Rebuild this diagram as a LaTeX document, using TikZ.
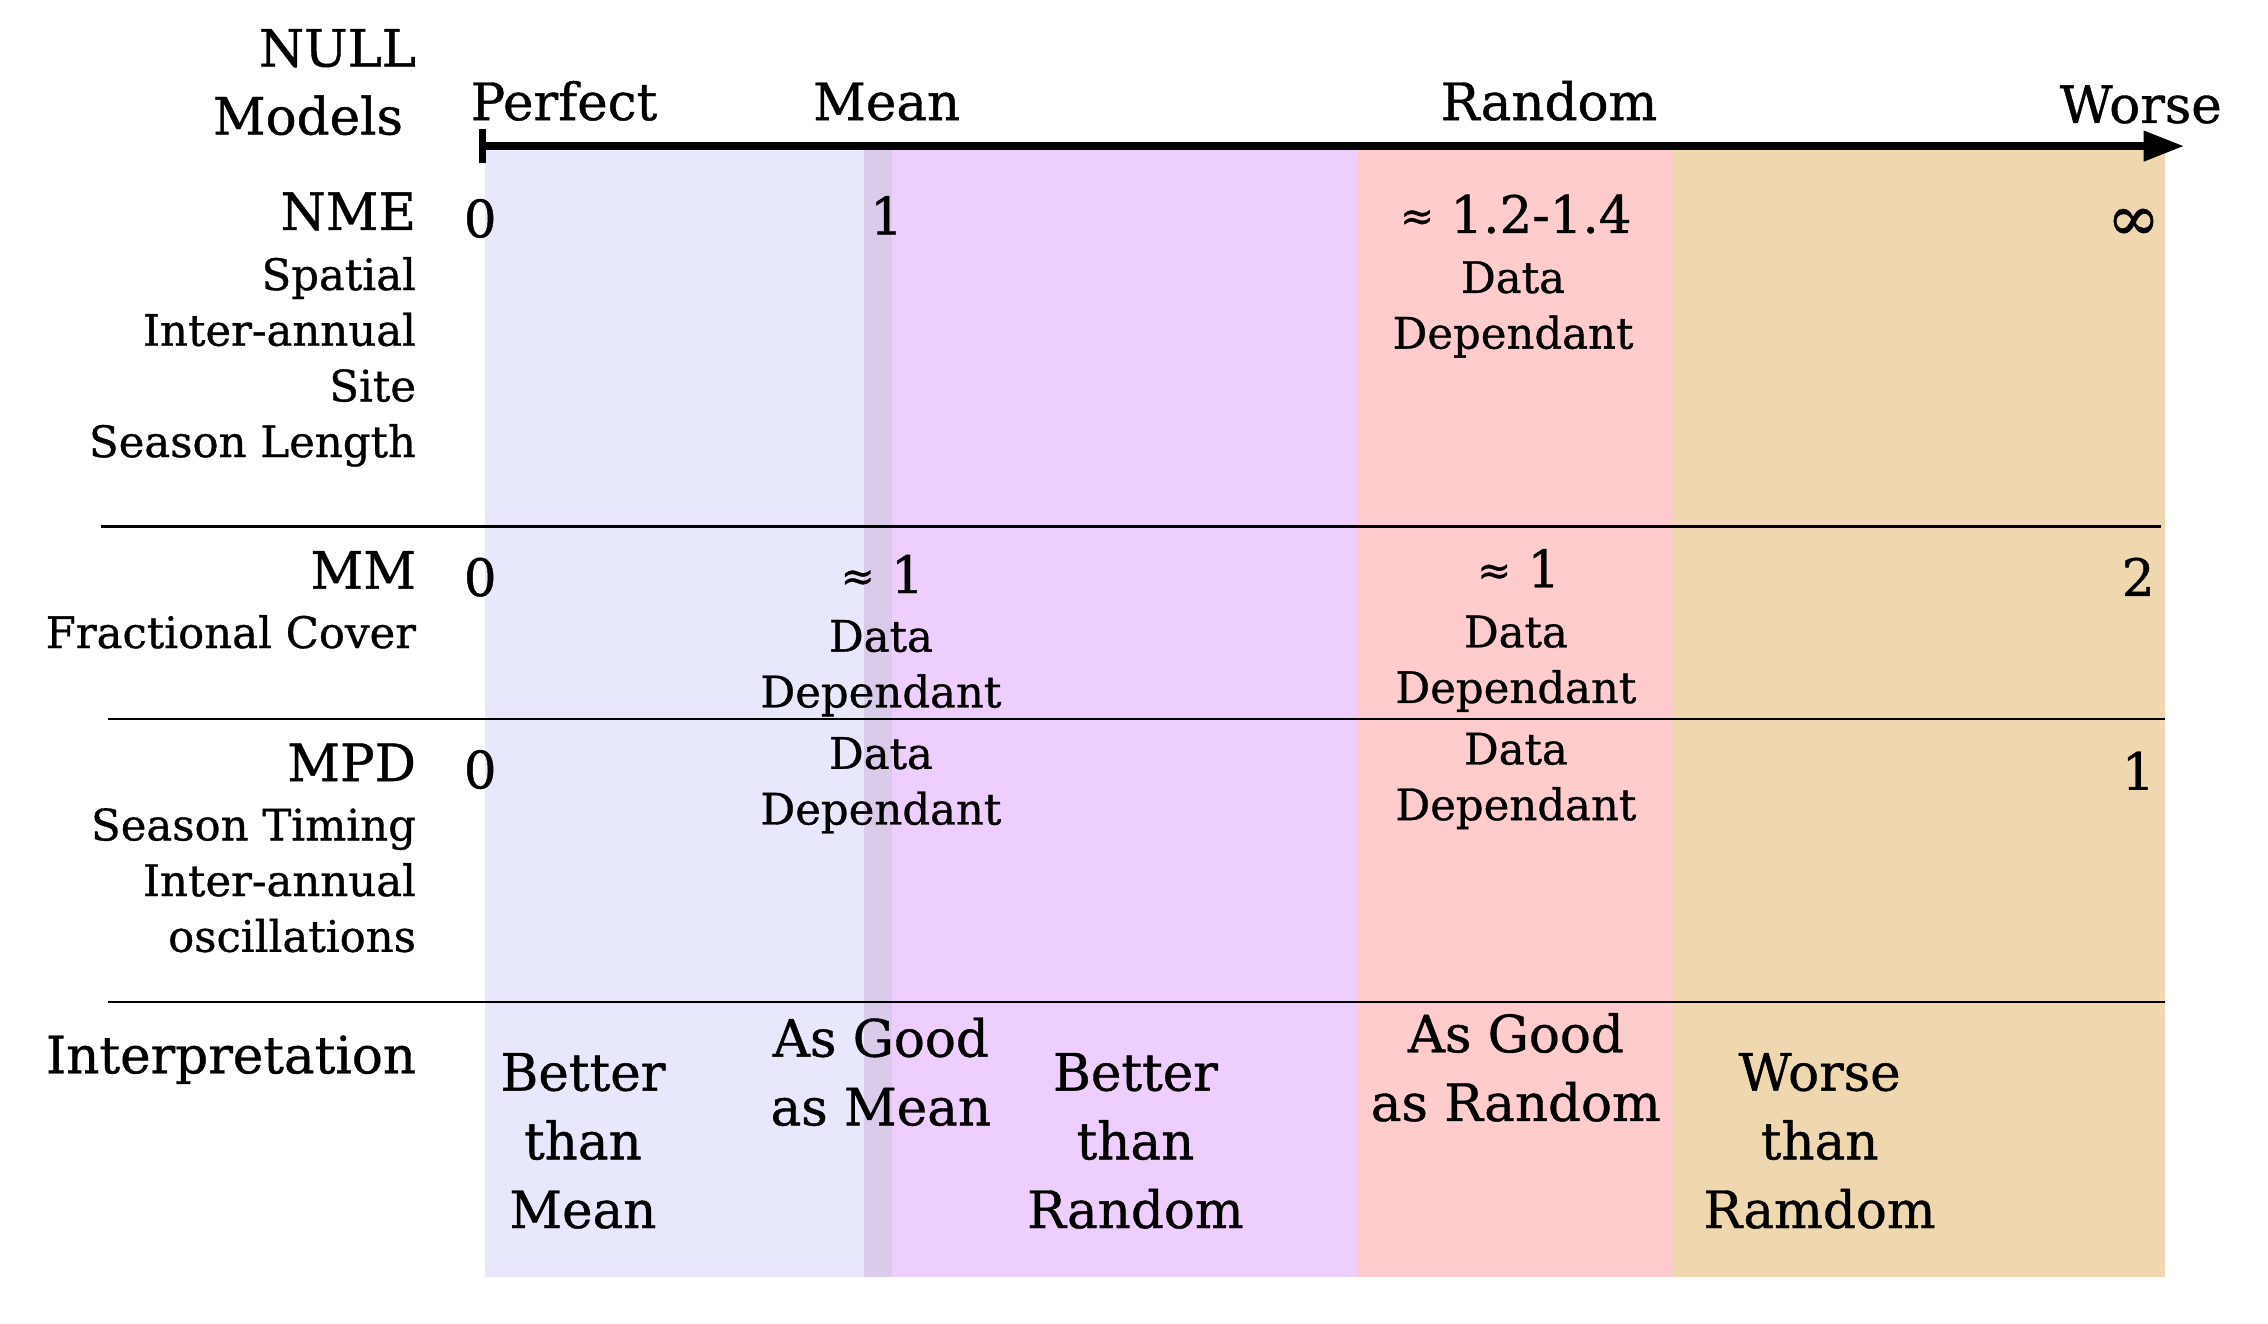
\documentclass[tikz,border=0pt]{standalone}
\usepackage{fontspec}
\setmainfont{DejaVu Serif}[FakeBold=0.8]
\usetikzlibrary{arrows.meta}
\definecolor{bandblue}{HTML}{E8E8FC}
\definecolor{bandmix}{HTML}{DBCBEA}
\definecolor{bandpurple}{HTML}{EECEFC}
\definecolor{bandpink}{HTML}{FECCCC}
\definecolor{bandtan}{HTML}{EFD8AF}
% a smaller "approximately" sign in front of the scores
\newcommand\approxmark{\raisebox{1pt}{\fontsize{14}{14}\selectfont≈}}
\begin{document}
\begin{tikzpicture}[x=0.5pt,y=-0.5pt,
  big/.style={font=\fontsize{17.8}{23.75}\selectfont, inner sep=0pt},
  small/.style={font=\fontsize{15}{19.25}\selectfont, inner sep=0pt},
  divider/.style={draw=black, line width=0.75pt},
  axis/.style={line width=2.6pt, {Bar[width=12pt]}-{Triangle[length=14pt,width=10pt]}}]
\useasboundingbox (0,0) rectangle (1568,915);

% score bands
\fill[bandblue]   (335,101) rectangle (597,883);
\fill[bandmix]    (597,101) rectangle (617,883);
\fill[bandpurple] (617,101) rectangle (938,883);
\fill[bandpink]   (938,101) rectangle (1157,883);
\fill[bandtan]    (1157,101) rectangle (1497,883);

% row dividers
\coordinate (d1l) at (70,364);  \coordinate (d1r) at (1494,364);
\coordinate (d2l) at (75,497);  \coordinate (d2r) at (1497,497);
\coordinate (d3l) at (75,693);  \coordinate (d3r) at (1497,693);
\draw[divider] (d1l) -- (d1r);
\draw[divider] (d2l) -- (d2r);
\draw[divider] (d3l) -- (d3r);

% score axis
\coordinate (axl) at (331,101);
\coordinate (axr) at (1510,101);
\draw[axis] (axl) -- (axr);

% axis headings (multi-line nodes are placed by the baseline of their last line)
\node[big, anchor=base east] (null) at (288,46) {NULL};
\node[big, anchor=base east] (models) at (279,93) {Models};
\node[big, anchor=base west] (perfect) at (325,83) {Perfect};
\node[big, anchor=base] (mean) at (613,83) {Mean};
\node[big, anchor=base] (random) at (1071,83) {Random};
\node[big, anchor=base] (worse) at (1480,85) {Worse};

% metric names
\node[big, anchor=base east] (nme) at (288,159) {NME};
\node[small, anchor=base east, align=right] (nmeuse) at (288,316) {Spatial\\Inter-annual\\Site\\Season Length};
\node[big, anchor=base east] (mm) at (288,407) {MM};
\node[small, anchor=base east] (mmuse) at (288,448) {Fractional Cover};
\node[big, anchor=base east] (mpd) at (288,540) {MPD};
\node[small, anchor=base east, align=right] (mpduse) at (288,658) {Season Timing\\Inter-annual\\oscillations};
\node[big, anchor=base east] (interp) at (288,742) {Interpretation};

% NME scores
\node[big, anchor=base] (nmezero) at (332,164) {0};
\node[big, anchor=base] (nmemean) at (613,162) {1};
\node[big, anchor=base] (nmernd) at (1048,161) {\approxmark\ 1.2-1.4};
\node[small, anchor=base, align=center] (nmedd) at (1046,241) {Data\\Dependant};
\node[big, anchor=base, font=\fontsize{22}{22}\selectfont] (nmeinf) at (1475,166) {∞};

% MM scores
\node[big, anchor=base] (mmzero) at (332,412) {0};
\node[big, anchor=base] (mmmean) at (610,410) {\approxmark\ 1};
\node[small, anchor=base, align=center] (mmmeandd) at (609,489) {Data\\Dependant};
\node[big, anchor=base] (mmrnd) at (1050,406) {\approxmark\ 1};
\node[small, anchor=base, align=center] (mmrnddd) at (1048,486) {Data\\Dependant};
\node[big, anchor=base east] (mmmax) at (1490,412) {2};

% MPD scores
\node[big, anchor=base] (mpdzero) at (332,545) {0};
\node[small, anchor=base, align=center] (mpdmeandd) at (609,570) {Data\\Dependant};
\node[small, anchor=base, align=center] (mpdrnddd) at (1048,567) {Data\\Dependant};
\node[big, anchor=base east] (mpdmax) at (1490,546) {1};

% interpretation of each band
\node[big, anchor=base, align=center] (btm) at (403,849) {Better\\than\\Mean};
\node[big, anchor=base, align=center] (agm) at (609,778) {As Good\\as Mean};
\node[big, anchor=base, align=center] (btr) at (785,849) {Better\\than\\Random};
\node[big, anchor=base, align=center] (agr) at (1048,775) {As Good\\as Random};
\node[big, anchor=base, align=center] (wtr) at (1258,849) {Worse\\than\\Ramdom};
\end{tikzpicture}
\end{document}
